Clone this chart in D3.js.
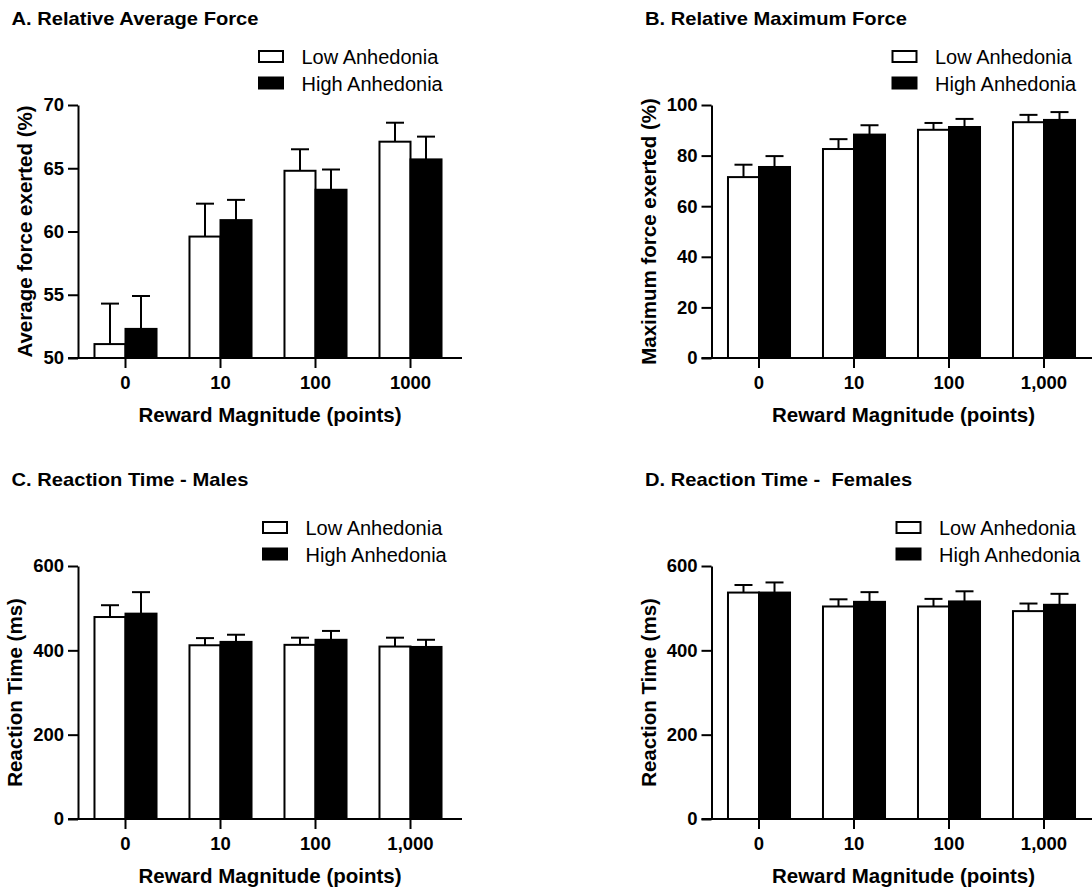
<!DOCTYPE html>
<meta charset="utf-8">
<title>Anhedonia effort task</title>
<style>
  body { margin: 0; background: #fff; }
  svg { display: block; font-family: "Liberation Sans", Arial, sans-serif; }
</style>
<svg width="1092" height="888"></svg>
<script src="https://cdnjs.cloudflare.com/ajax/libs/d3/7.8.5/d3.min.js"></script>
<script>

// reward levels
var categories = ["0", "10", "100", "1000"];
var labelsPlain = ["0", "10", "100", "1000"];
var labelsComma = ["0", "10", "100", "1,000"];
var groups = ["Low Anhedonia", "High Anhedonia"];

// A. relative average force (mean, SEM)
var avgLow = [51.1, 59.6, 64.8, 67.1];
var avgLowSem = [3.2, 2.6, 1.7, 1.5];
var avgHigh = [52.3, 60.9, 63.3, 65.7];
var avgHighSem = [2.6, 1.6, 1.6, 1.8];

// B. relative maximum force
var maxLow = [71.5, 82.6, 90.2, 93.2];
var maxLowSem = [4.9, 3.9, 2.7, 2.9];
var maxHigh = [75.5, 88.3, 91.3, 94.1];
var maxHighSem = [4.3, 3.7, 3.2, 3.1];

// C. reaction time males (ms)
var rtMaleLow = [479, 412, 413, 409];
var rtMaleLowSem = [28, 17, 17, 21];
var rtMaleHigh = [487, 420, 425, 408];
var rtMaleHighSem = [51, 17, 21, 17];

// D. reaction time females (ms)
var rtFemLow = [537, 504, 504, 493];
var rtFemLowSem = [18, 17, 18, 18];
var rtFemHigh = [537, 515, 516, 508];
var rtFemHighSem = [24, 23, 24, 26];

var avgTicks = [50, 55, 60, 65, 70];
var maxTicks = [0, 20, 40, 60, 80, 100];
var rtTicks = [0, 200, 400, 600];

var panels = [
  {title: "A. Relative Average Force", ylab: "Average force exerted (%)", domain: [50, 70], ticks: avgTicks,
   xlabels: labelsPlain, low: avgLow, lowSem: avgLowSem, high: avgHigh, highSem: avgHighSem,
   ox: 0, oy: 0, legX: 258, legY: 50, ylabX: 32},
  {title: "B. Relative Maximum Force", ylab: "Maximum force exerted (%)", domain: [0, 100], ticks: maxTicks,
   xlabels: labelsComma, low: maxLow, lowSem: maxLowSem, high: maxHigh, highSem: maxHighSem,
   ox: 633.5, oy: 0, legX: 258, legY: 50, ylabX: 22},
  {title: "C. Reaction Time - Males", ylab: "Reaction Time (ms)", domain: [0, 600], ticks: rtTicks,
   xlabels: labelsComma, low: rtMaleLow, lowSem: rtMaleLowSem, high: rtMaleHigh, highSem: rtMaleHighSem,
   ox: 0, oy: 461, legX: 262, legY: 60, ylabX: 22},
  {title: "D. Reaction Time -  Females", ylab: "Reaction Time (ms)", domain: [0, 600], ticks: rtTicks,
   xlabels: labelsComma, low: rtFemLow, lowSem: rtFemLowSem, high: rtFemHigh, highSem: rtFemHighSem,
   ox: 633.5, oy: 461, legX: 262, legY: 60, ylabX: 22}
];

var svg = d3.select("svg");

var axisX = 78, plotTop = 105, plotBottom = 358, axisEnd = 462;

panels.forEach(function(p) {
  var g = svg.append("g").attr("transform", "translate(" + p.ox + "," + p.oy + ")");

  var x = d3.scaleBand()
      .domain(categories)
      .range([axisX, 458])
      .paddingInner(0.347)
      .paddingOuter(0.1735);

  var x1 = d3.scaleBand()
      .domain(["low", "high"])
      .range([0, x.bandwidth()]);

  var y = d3.scaleLinear()
      .domain(p.domain)
      .range([plotBottom, plotTop]);

  var rows = categories.map(function(c, i) {
    return [
      {cat: c, key: "low", mean: p.low[i], sem: p.lowSem[i]},
      {cat: c, key: "high", mean: p.high[i], sem: p.highSem[i]}
    ];
  });
  var flat = d3.merge(rows);

  // error bars (upper only), drawn first so bars sit on top
  var eb = g.append("g");
  eb.selectAll("line.v")
    .data(flat).enter().append("line")
      .attr("x1", function(d) { return x(d.cat) + x1(d.key) + x1.bandwidth() / 2; })
      .attr("x2", function(d) { return x(d.cat) + x1(d.key) + x1.bandwidth() / 2; })
      .attr("y1", function(d) { return y(d.mean); })
      .attr("y2", function(d) { return y(d.mean + d.sem); })
      .attr("stroke", "#000").attr("stroke-width", 2);
  eb.selectAll("line.cap")
    .data(flat).enter().append("line")
      .attr("x1", function(d) { return x(d.cat) + x1(d.key) + x1.bandwidth() / 2 - 9; })
      .attr("x2", function(d) { return x(d.cat) + x1(d.key) + x1.bandwidth() / 2 + 9; })
      .attr("y1", function(d) { return y(d.mean + d.sem); })
      .attr("y2", function(d) { return y(d.mean + d.sem); })
      .attr("stroke", "#000").attr("stroke-width", 2);

  g.append("g").selectAll("rect")
    .data(flat).enter().append("rect")
      .attr("x", function(d) { return x(d.cat) + x1(d.key); })
      .attr("width", x1.bandwidth())
      .attr("y", function(d) { return y(d.mean); })
      .attr("height", function(d) { return y(p.domain[0]) - y(d.mean); })
      .attr("fill", function(d) { return d.key == "low" ? "#fff" : "#000"; })
      .attr("stroke", "#000")
      .attr("stroke-width", 2);

  // y axis
  var ya = g.append("g")
      .attr("transform", "translate(" + axisX + ",0)")
      .call(d3.axisLeft(y).tickValues(p.ticks).tickSize(10).tickPadding(4).tickSizeOuter(0));
  ya.select(".domain").attr("stroke-width", 2);
  ya.selectAll(".tick line").attr("stroke-width", 2);
  ya.selectAll(".tick text")
      .attr("font-size", 18.5).attr("font-weight", "bold")
      .attr("font-family", "Liberation Sans, Arial, sans-serif").attr("fill", "#000");

  // x axis
  var xa = g.append("g")
      .attr("transform", "translate(0," + plotBottom + ")")
      .call(d3.axisBottom(x).tickFormat(function(d, i) { return p.xlabels[i]; })
        .tickSize(10).tickPadding(8).tickSizeOuter(0));
  xa.select(".domain").remove();
  xa.append("line")
      .attr("x1", axisX - 10).attr("x2", axisEnd)
      .attr("stroke", "#000").attr("stroke-width", 2);
  xa.selectAll(".tick line").attr("stroke-width", 2);
  xa.selectAll(".tick text")
      .attr("font-size", 18.5).attr("font-weight", "bold")
      .attr("font-family", "Liberation Sans, Arial, sans-serif").attr("fill", "#000");

  // axis titles
  g.append("text")
      .attr("x", (axisX + axisEnd) / 2 + 0)
      .attr("y", plotBottom + 64)
      .attr("text-anchor", "middle")
      .attr("font-size", 20.5).attr("font-weight", "bold")
      .text("Reward Magnitude (points)");

  g.append("text")
      .attr("transform", "translate(" + p.ylabX + "," + ((plotTop + plotBottom) / 2) + ")rotate(-90)")
      .attr("text-anchor", "middle")
      .attr("font-size", 20.5).attr("font-weight", "bold")
      .text(p.ylab);

  // panel title, slightly wide like the original
  var t = g.append("text")
      .attr("x", 11.5).attr("y", 25)
      .attr("font-size", 19).attr("font-weight", "bold")
      .style("white-space", "pre")
      .text(p.title);
  var w = t.node().getComputedTextLength();
  t.attr("textLength", w * 1.06).attr("lengthAdjust", "spacingAndGlyphs");

  // legend
  var leg = g.append("g").attr("transform", "translate(" + p.legX + "," + p.legY + ")");
  leg.selectAll("rect")
    .data(groups).enter().append("rect")
      .attr("x", 1).attr("y", function(d, i) { return 1 + i * 26.5; })
      .attr("width", 24).attr("height", 11)
      .attr("fill", function(d, i) { return i == 0 ? "#fff" : "#000"; })
      .attr("stroke", "#000").attr("stroke-width", 2);
  leg.selectAll("text")
    .data(groups).enter().append("text")
      .attr("x", 43.5).attr("y", function(d, i) { return 14 + i * 26.5; })
      .attr("font-size", 20)
      .text(function(d) { return d; });
});

</script>
